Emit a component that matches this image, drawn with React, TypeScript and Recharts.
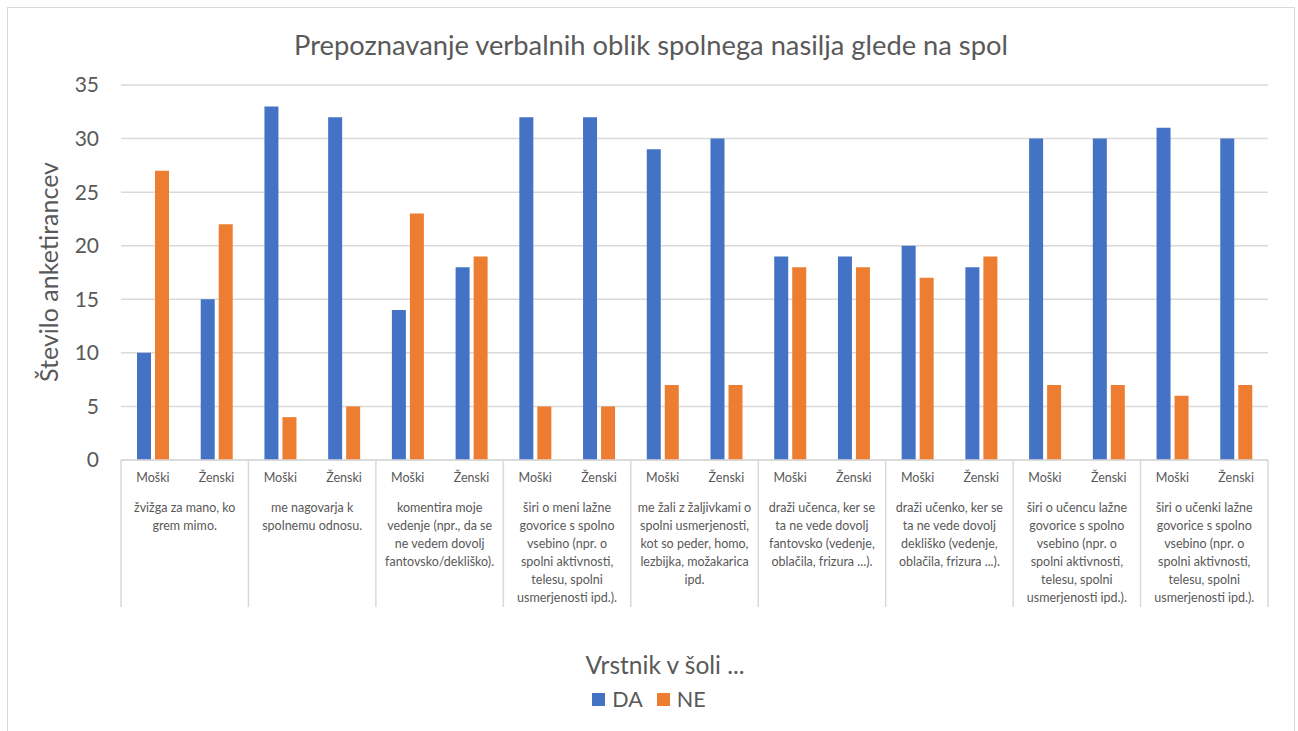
import { BarChart, Bar, XAxis, YAxis, CartesianGrid, Legend } from 'recharts';

// Sub-categories (gender of respondent) under each statement
const SUB_LABELS = [
  'Moški', 'Ženski', 'Moški', 'Ženski', 'Moški', 'Ženski',
  'Moški', 'Ženski', 'Moški', 'Ženski', 'Moški', 'Ženski',
  'Moški', 'Ženski', 'Moški', 'Ženski', 'Moški', 'Ženski',
];

// Statement labels, already wrapped the way the original shows them
const GROUP_LINES: string[][] = [
  ['žvižga za mano, ko', 'grem mimo.'],
  ['me nagovarja k', 'spolnemu odnosu.'],
  ['komentira moje', 'vedenje (npr., da se', 'ne vedem dovolj', 'fantovsko/dekliško).'],
  ['širi o meni lažne', 'govorice s spolno', 'vsebino (npr. o', 'spolni aktivnosti,', 'telesu, spolni', 'usmerjenosti ipd.).'],
  ['me žali z žaljivkami o', 'spolni usmerjenosti,', 'kot so peder, homo,', 'lezbijka, možakarica', 'ipd.'],
  ['draži učenca, ker se', 'ta ne vede dovolj', 'fantovsko (vedenje,', 'oblačila, frizura ...).'],
  ['draži učenko, ker se', 'ta ne vede dovolj', 'dekliško (vedenje,', 'oblačila, frizura ...).'],
  ['širi o učencu lažne', 'govorice s spolno', 'vsebino (npr. o', 'spolni aktivnosti,', 'telesu, spolni', 'usmerjenosti ipd.).'],
  ['širi o učenki lažne', 'govorice s spolno', 'vsebino (npr. o', 'spolni aktivnosti,', 'telesu, spolni', 'usmerjenosti ipd.).'],
];

const DA_VALUES = [10, 15, 33, 32, 14, 18, 32, 32, 29, 30, 19, 19, 20, 18, 30, 30, 31, 30];
const NE_VALUES = [27, 22, 4, 5, 23, 19, 5, 5, 7, 7, 18, 18, 17, 19, 7, 7, 6, 7];

const Y_TICKS = [0, 5, 10, 15, 20, 25, 30, 35];

const BLUE = '#4472C4';
const ORANGE = '#ED7D31';
const TEXT = '#595959';
const GRID = '#d9d9d9';
const FONT = 'Lato, "Open Sans", sans-serif';

const data = SUB_LABELS.map((sub, i) => ({
  id: `c${i}`,
  sub,
  DA: DA_VALUES[i],
  NE: NE_VALUES[i],
}));

// two-level category axis: gender on the first row, statement below, with dividers
function GroupedTick(props: any) {
  const { x, y, payload } = props;
  const index: number = props.index ?? payload.index ?? 0;
  const half: number = payload?.offset || 31.85;
  const isFirst = index % 2 === 0;
  const isLast = index === SUB_LABELS.length - 1;
  return (
    <g>
      <text x={x} y={y + 22} textAnchor="middle" fill={TEXT} fontSize={12.5} fontFamily={FONT}>
        {SUB_LABELS[index]}
      </text>
      {isFirst && (
        <>
          <line x1={x - half} x2={x - half} y1={y} y2={y + 147} stroke={GRID} strokeWidth={1.5} />
          {GROUP_LINES[index / 2].map((line, li) => (
            <text
              key={li}
              x={x + half}
              y={y + 52 + li * 18}
              textAnchor="middle"
              fill={TEXT}
              fontSize={12.5}
              fontFamily={FONT}
            >
              {line}
            </text>
          ))}
        </>
      )}
      {isLast && <line x1={x + half} x2={x + half} y1={y} y2={y + 147} stroke={GRID} strokeWidth={1.5} />}
    </g>
  );
}

function LegendContent(props: any) {
  const items = props.payload || [];
  return (
    <div style={{ display: 'flex', justifyContent: 'center', paddingLeft: 14, fontFamily: FONT }}>
      {items.map((item: any) => (
        <div key={item.value} style={{ display: 'flex', alignItems: 'center', marginRight: 14 }}>
          <span style={{ width: 13, height: 13, background: item.color, display: 'inline-block', marginRight: 7 }} />
          <span style={{ fontSize: 21.5, color: TEXT }}>{item.value}</span>
        </div>
      ))}
    </div>
  );
}

export default function App() {
  return (
    <div style={{ position: 'absolute', left: 0, top: 0, width: 1298, height: 731, background: '#fff', overflow: 'hidden' }}>
      {/* chart frame */}
      <div
        style={{
          position: 'absolute',
          left: 7,
          top: 7,
          width: 1288,
          height: 740,
          border: `1px solid ${GRID}`,
          boxSizing: 'border-box',
        }}
      />
      <div
        style={{
          position: 'absolute',
          left: 0,
          top: 28,
          width: 1302,
          textAlign: 'center',
          fontFamily: FONT,
          fontSize: 27.3,
          color: TEXT,
        }}
      >
        Prepoznavanje verbalnih oblik spolnega nasilja glede na spol
      </div>
      <BarChart
        width={1298}
        height={731}
        data={data}
        margin={{ top: 85, right: 30, left: 61, bottom: 121 }}
        barSize={14}
        barGap={4}
      >
        <CartesianGrid vertical={false} stroke={GRID} strokeWidth={1.5} />
        <XAxis
          dataKey="id"
          interval={0}
          height={150}
          tickLine={false}
          tickSize={0}
          tickMargin={0}
          axisLine={{ stroke: GRID, strokeWidth: 1.5 }}
          tick={<GroupedTick />}
          label={{
            content: () => (
              <text x={665} y={674} textAnchor="middle" fill={TEXT} fontSize={24.5} fontFamily={FONT}>
                Vrstnik v šoli ...
              </text>
            ),
          }}
        />
        <YAxis
          domain={[0, 35]}
          ticks={Y_TICKS}
          width={60}
          axisLine={false}
          tickLine={false}
          tickSize={0}
          tickMargin={22}
          tick={{ fill: TEXT, fontSize: 21, fontFamily: FONT }}
          label={{
            content: () => (
              <text
                x={48}
                y={272}
                transform="rotate(-90 48 272)"
                textAnchor="middle"
                dominantBaseline="central"
                fill={TEXT}
                fontSize={25}
                fontFamily={FONT}
              >
                Število anketirancev
              </text>
            ),
          }}
        />
        <Legend
          verticalAlign="middle"
          align="center"
          layout="horizontal"
          wrapperStyle={{ position: 'absolute', top: 686, left: 0, width: 1298 }}
          content={<LegendContent />}
        />
        <Bar dataKey="DA" name="DA" fill={BLUE} isAnimationActive={false} />
        <Bar dataKey="NE" name="NE" fill={ORANGE} isAnimationActive={false} />
      </BarChart>
    </div>
  );
}
